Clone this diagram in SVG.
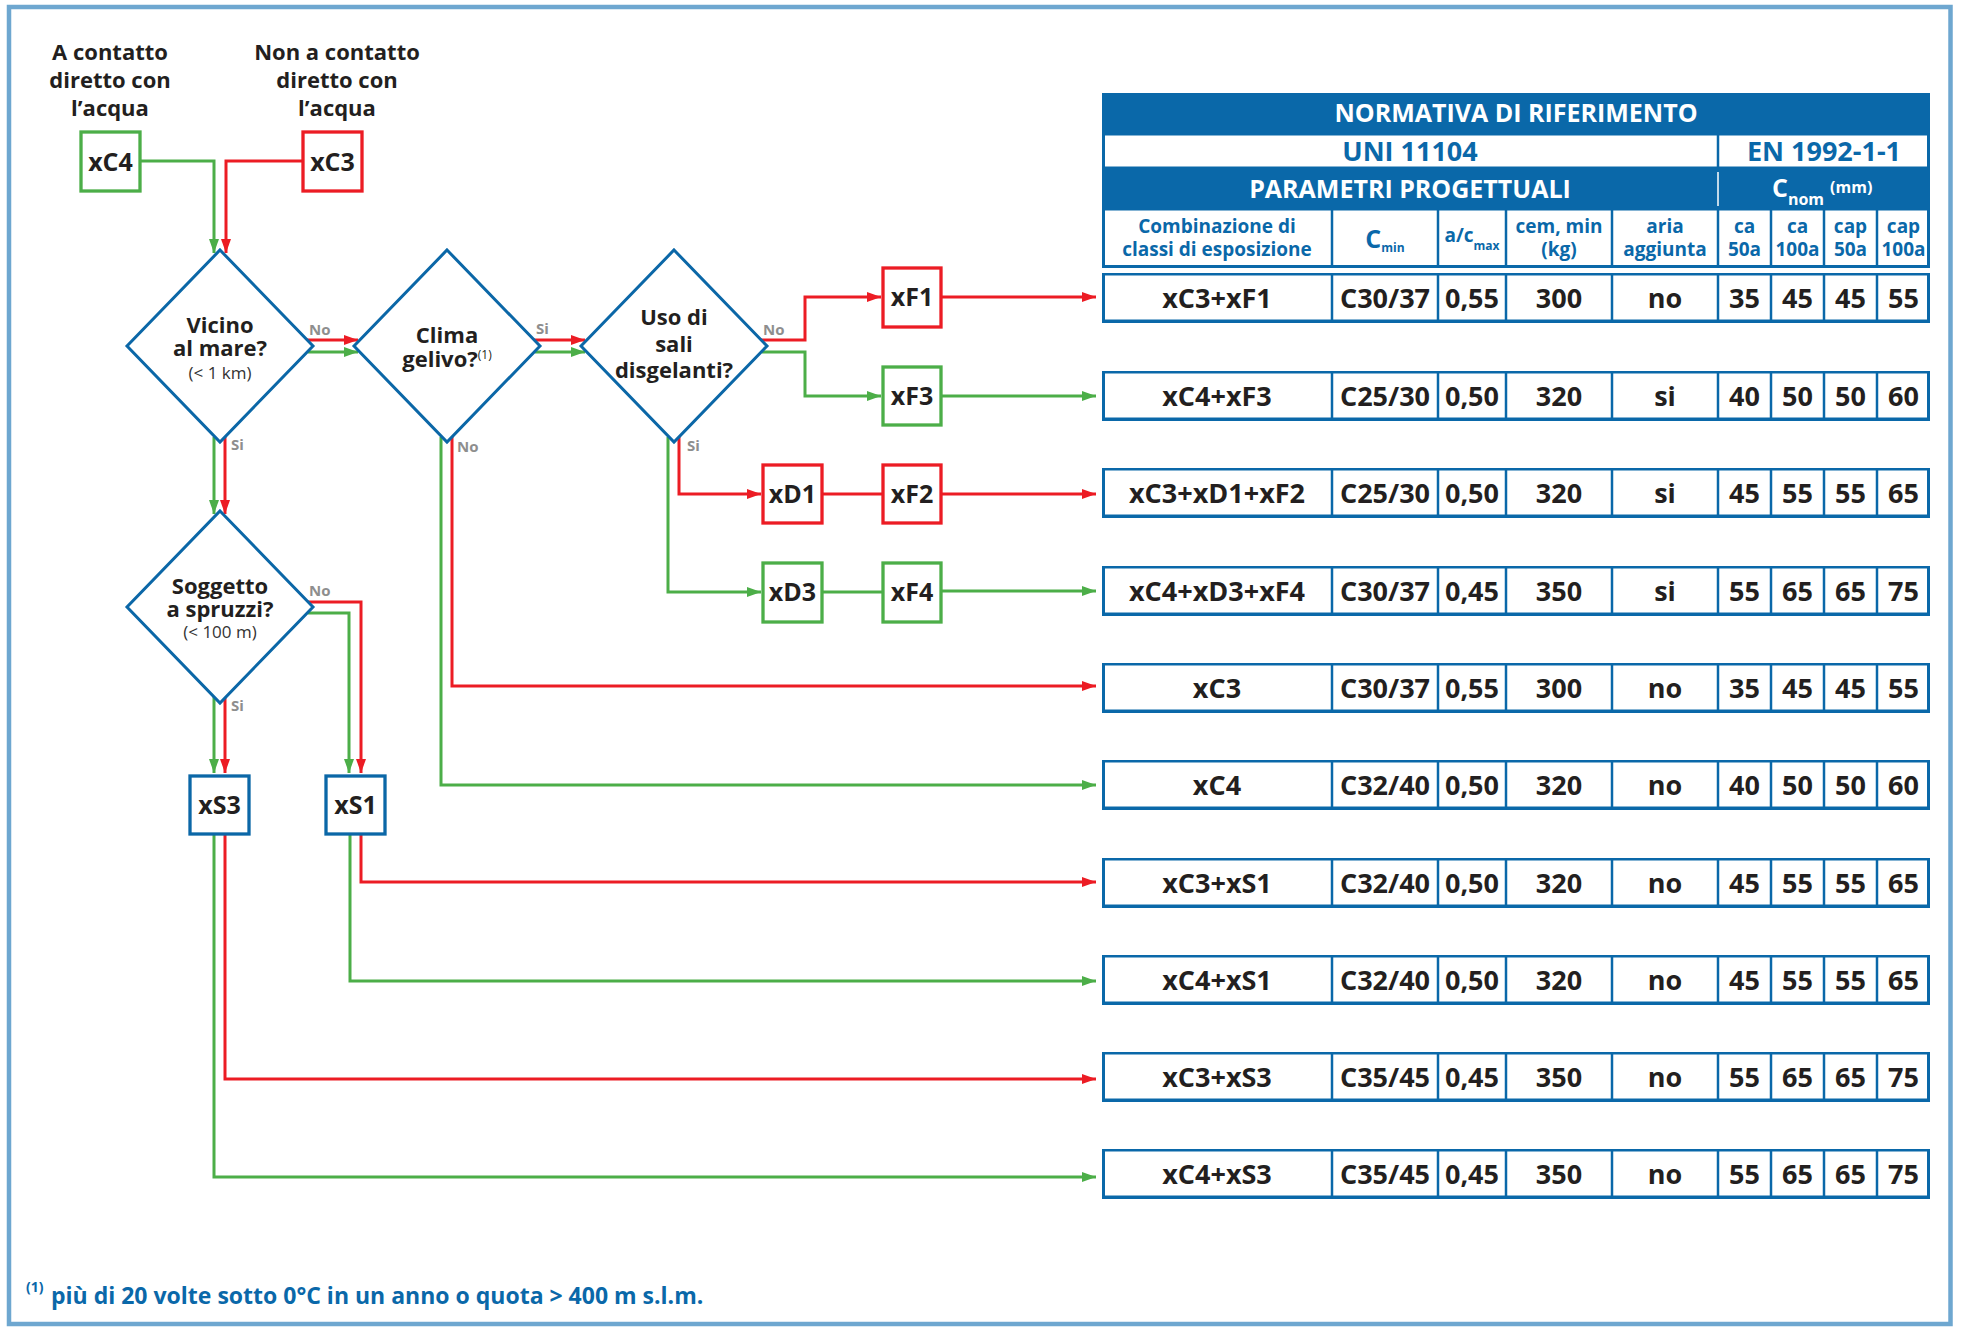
<svg xmlns="http://www.w3.org/2000/svg" xmlns:xlink="http://www.w3.org/1999/xlink" width="1961" height="1327" viewBox="0 0 1961 1327">
<style>
text{font-family:"Open Sans","Liberation Sans",sans-serif;font-weight:700}
.lab{font-size:22px;fill:#231f20;text-anchor:middle}
.sm{font-size:17px;font-weight:400;fill:#333;text-anchor:middle}
.box{font-size:25px;fill:#231f20;text-anchor:middle}
.yn{font-size:15px;fill:#8e8e8e}
.dia{fill:#fff;stroke:#0b67a7;stroke-width:3}
.bg{fill:#fff;stroke-width:3.3}
.g{stroke:#4cae48}
.r{stroke:#ec1c24}
.b{stroke:#0b67a7}
.lr{fill:none;stroke:#ec1c24;stroke-width:3}
.lg{fill:none;stroke:#4cae48;stroke-width:3}
.ar{marker-end:url(#mr)}
.ag{marker-end:url(#mg)}
.hw{fill:#fff;text-anchor:middle}
.hb{fill:#0a68a9;text-anchor:middle}
.hc{font-size:19px;fill:#0a68a9;text-anchor:middle}
.td{font-size:27px;fill:#231f20;text-anchor:middle}
.fn{fill:#0a68a9}
</style>
<defs>
<marker id="mr" markerUnits="userSpaceOnUse" viewBox="0 0 15 11" markerWidth="15" markerHeight="11" refX="14" refY="5.5" orient="auto"><path d="M0,0.5 L14,5.5 L0,10.5 z" fill="#ec1c24"/></marker>
<marker id="mg" markerUnits="userSpaceOnUse" viewBox="0 0 15 11" markerWidth="15" markerHeight="11" refX="14" refY="5.5" orient="auto"><path d="M0,0.5 L14,5.5 L0,10.5 z" fill="#4cae48"/></marker>
<g id="rowbg">
<rect x="1102" y="0" width="828" height="50" fill="#0a68a9"/>
<g fill="#fff">
<rect x="1105" y="2.5" width="225.75" height="44"/>
<rect x="1333.25" y="2.5" width="103.5" height="44"/>
<rect x="1439.25" y="2.5" width="65.5" height="44"/>
<rect x="1507.25" y="2.5" width="103.5" height="44"/>
<rect x="1613.25" y="2.5" width="103.5" height="44"/>
<rect x="1719.25" y="2.5" width="50.5" height="44"/>
<rect x="1772.25" y="2.5" width="50.5" height="44"/>
<rect x="1825.25" y="2.5" width="50.5" height="44"/>
<rect x="1878.25" y="2.5" width="48.75" height="44"/>
</g>
</g>
</defs>
<rect x="0" y="0" width="1961" height="1327" fill="#fff"/>
<rect x="9" y="7" width="1941.5" height="1317" fill="none" stroke="#6ea7d0" stroke-width="4.5"/>

<g id="connectors">
<polyline class="lg ag" points="140,161 214,161 214,253"/>
<polyline class="lr ar" points="303,161 226,161 226,253"/>
<polyline class="lr ar" points="306,340 358,340"/>
<polyline class="lg ag" points="308,352 358,352"/>
<polyline class="lr ar" points="533,340 585,340"/>
<polyline class="lg ag" points="535,352 585,352"/>
<polyline class="lr ar" points="760,340 805,340 805,297 881,297"/>
<polyline class="lg ag" points="762,352 805,352 805,396 881,396"/>
<polyline class="lr ar" points="941,297 1096,297"/>
<polyline class="lg ag" points="941,396 1096,396"/>
<polyline class="lr ar" points="679,437 679,494 761,494"/>
<polyline class="lg ag" points="668,437 668,592 761,592"/>
<polyline class="lr" points="822,494 883,494"/>
<polyline class="lr ar" points="941,494 1096,494"/>
<polyline class="lg" points="822,592 883,592"/>
<polyline class="lg ag" points="941,591 1096,591"/>
<polyline class="lr ar" points="452,437 452,686 1096,686"/>
<polyline class="lg ag" points="441,437 441,785 1096,785"/>
<polyline class="lg ag" points="214,437 214,514"/>
<polyline class="lr ar" points="225,437 225,514"/>
<polyline class="lr ar" points="306,602 361,602 361,773"/>
<polyline class="lg ag" points="308,613 349,613 349,773"/>
<polyline class="lg ag" points="214,697 214,773"/>
<polyline class="lr ar" points="225,697 225,773"/>
<polyline class="lr ar" points="361,834 361,882 1096,882"/>
<polyline class="lg ag" points="350,834 350,981 1096,981"/>
<polyline class="lr ar" points="225,834 225,1079 1096,1079"/>
<polyline class="lg ag" points="214,834 214,1177 1096,1177"/>
</g>

<g id="labels-top">
<text class="lab"><tspan x="110" y="60">A contatto</tspan><tspan x="110" y="88">diretto con</tspan><tspan x="110" y="116">l’acqua</tspan></text>
<text class="lab"><tspan x="337" y="60">Non a contatto</tspan><tspan x="337" y="88">diretto con</tspan><tspan x="337" y="116">l’acqua</tspan></text>
</g>

<g id="xC4"><rect class="bg g" x="81" y="132" width="59" height="59"/><text class="box" x="110.5" y="171">xC4</text></g>
<g id="xC3"><rect class="bg r" x="303" y="132" width="59" height="59"/><text class="box" x="332.5" y="171">xC3</text></g>

<g id="d-vicino">
<polygon class="dia" points="220,250 313,346 220,442 127,346"/>
<text class="lab"><tspan x="220" y="333">Vicino</tspan><tspan x="220" y="356">al mare?</tspan></text>
<text class="sm" x="220" y="379">(&lt; 1 km)</text>
</g>
<g id="d-clima">
<polygon class="dia" points="447,250 540,346 447,442 354,346"/>
<text class="lab" x="447" y="343">Clima</text>
<text class="lab" x="447" y="367">gelivo?<tspan font-size="12" font-weight="400" dy="-8">(1)</tspan></text>
</g>
<g id="d-sali">
<polygon class="dia" points="674,250 767,346 674,442 581,346"/>
<text class="lab"><tspan x="674" y="325">Uso di</tspan><tspan x="674" y="352">sali</tspan><tspan x="674" y="378">disgelanti?</tspan></text>
</g>
<g id="d-spruzzi">
<polygon class="dia" points="220,511 313,607 220,703 127,607"/>
<text class="lab"><tspan x="220" y="594">Soggetto</tspan><tspan x="220" y="617">a spruzzi?</tspan></text>
<text class="sm" x="220" y="638">(&lt; 100 m)</text>
</g>

<g id="yn-labels">
<text class="yn" x="309" y="335">No</text>
<text class="yn" x="231" y="450">Si</text>
<text class="yn" x="536" y="334">Si</text>
<text class="yn" x="457" y="452">No</text>
<text class="yn" x="763" y="335">No</text>
<text class="yn" x="687" y="451">Si</text>
<text class="yn" x="309" y="596">No</text>
<text class="yn" x="231" y="711">Si</text>
</g>

<g id="xF1"><rect class="bg r" x="883" y="268" width="58" height="59"/><text class="box" x="912" y="306">xF1</text></g>
<g id="xF3"><rect class="bg g" x="883" y="367" width="58" height="58"/><text class="box" x="912" y="405">xF3</text></g>
<g id="xD1"><rect class="bg r" x="763" y="465" width="59" height="58"/><text class="box" x="792.5" y="503">xD1</text></g>
<g id="xF2"><rect class="bg r" x="883" y="465" width="58" height="58"/><text class="box" x="912" y="503">xF2</text></g>
<g id="xD3"><rect class="bg g" x="763" y="563" width="59" height="59"/><text class="box" x="792.5" y="601">xD3</text></g>
<g id="xF4"><rect class="bg g" x="883" y="563" width="58" height="59"/><text class="box" x="912" y="601">xF4</text></g>
<g id="xS3"><rect class="bg b" x="190" y="776" width="59" height="58"/><text class="box" x="219.5" y="814">xS3</text></g>
<g id="xS1"><rect class="bg b" x="326" y="776" width="59" height="58"/><text class="box" x="355.5" y="814">xS1</text></g>

<g id="table-header">
<rect x="1102" y="93" width="828" height="175" fill="#0a68a9"/>
<rect x="1105" y="135.5" width="611.75" height="31" fill="#fff"/>
<rect x="1719.25" y="135.5" width="207.75" height="31" fill="#fff"/>
<line x1="1718" y1="172" x2="1718" y2="206" stroke="#fff" stroke-width="1.5"/>
<g fill="#fff">
<rect x="1105" y="210.5" width="225.75" height="54.5"/>
<rect x="1333.25" y="210.5" width="103.5" height="54.5"/>
<rect x="1439.25" y="210.5" width="65.5" height="54.5"/>
<rect x="1507.25" y="210.5" width="103.5" height="54.5"/>
<rect x="1613.25" y="210.5" width="103.5" height="54.5"/>
<rect x="1719.25" y="210.5" width="50.5" height="54.5"/>
<rect x="1772.25" y="210.5" width="50.5" height="54.5"/>
<rect x="1825.25" y="210.5" width="50.5" height="54.5"/>
<rect x="1878.25" y="210.5" width="48.75" height="54.5"/>
</g>
<text class="hw" x="1516" y="122" font-size="25">NORMATIVA DI RIFERIMENTO</text>
<text class="hb" x="1410" y="161" font-size="27">UNI 11104</text>
<text class="hb" x="1824" y="161" font-size="27">EN 1992-1-1</text>
<text class="hw" x="1410" y="198" font-size="25">PARAMETRI PROGETTUALI</text>
<text x="1772" y="197" fill="#fff"><tspan font-size="25">C</tspan><tspan font-size="16" dy="8">nom</tspan><tspan font-size="16" dx="6" dy="-12">(mm)</tspan></text>
<text class="hc"><tspan x="1217" y="233">Combinazione di</tspan><tspan x="1217" y="256">classi di esposizione</tspan></text>
<text class="hc" x="1385" y="248"><tspan font-size="25">C</tspan><tspan font-size="12" dy="4">min</tspan></text>
<text class="hc" x="1472" y="242">a/c<tspan font-size="12" dy="8">max</tspan></text>
<text class="hc"><tspan x="1559" y="233">cem, min</tspan><tspan x="1559" y="256">(kg)</tspan></text>
<text class="hc"><tspan x="1665" y="233">aria</tspan><tspan x="1665" y="256">aggiunta</tspan></text>
<text class="hc"><tspan x="1744.5" y="233">ca</tspan><tspan x="1744.5" y="256">50a</tspan></text>
<text class="hc"><tspan x="1797.5" y="233">ca</tspan><tspan x="1797.5" y="256">100a</tspan></text>
<text class="hc"><tspan x="1850.5" y="233">cap</tspan><tspan x="1850.5" y="256">50a</tspan></text>
<text class="hc"><tspan x="1903.5" y="233">cap</tspan><tspan x="1903.5" y="256">100a</tspan></text>
</g>

<g id="row1"><use xlink:href="#rowbg" y="273"/><text class="td" y="307.5"><tspan x="1217">xC3+xF1</tspan><tspan x="1385">C30/37</tspan><tspan x="1472">0,55</tspan><tspan x="1559">300</tspan><tspan x="1665">no</tspan><tspan x="1744.5">35</tspan><tspan x="1797.5">45</tspan><tspan x="1850.5">45</tspan><tspan x="1903.5">55</tspan></text></g>
<g id="row2"><use xlink:href="#rowbg" y="371"/><text class="td" y="405.5"><tspan x="1217">xC4+xF3</tspan><tspan x="1385">C25/30</tspan><tspan x="1472">0,50</tspan><tspan x="1559">320</tspan><tspan x="1665">si</tspan><tspan x="1744.5">40</tspan><tspan x="1797.5">50</tspan><tspan x="1850.5">50</tspan><tspan x="1903.5">60</tspan></text></g>
<g id="row3"><use xlink:href="#rowbg" y="468"/><text class="td" y="502.5"><tspan x="1217">xC3+xD1+xF2</tspan><tspan x="1385">C25/30</tspan><tspan x="1472">0,50</tspan><tspan x="1559">320</tspan><tspan x="1665">si</tspan><tspan x="1744.5">45</tspan><tspan x="1797.5">55</tspan><tspan x="1850.5">55</tspan><tspan x="1903.5">65</tspan></text></g>
<g id="row4"><use xlink:href="#rowbg" y="566"/><text class="td" y="600.5"><tspan x="1217">xC4+xD3+xF4</tspan><tspan x="1385">C30/37</tspan><tspan x="1472">0,45</tspan><tspan x="1559">350</tspan><tspan x="1665">si</tspan><tspan x="1744.5">55</tspan><tspan x="1797.5">65</tspan><tspan x="1850.5">65</tspan><tspan x="1903.5">75</tspan></text></g>
<g id="row5"><use xlink:href="#rowbg" y="663"/><text class="td" y="697.5"><tspan x="1217">xC3</tspan><tspan x="1385">C30/37</tspan><tspan x="1472">0,55</tspan><tspan x="1559">300</tspan><tspan x="1665">no</tspan><tspan x="1744.5">35</tspan><tspan x="1797.5">45</tspan><tspan x="1850.5">45</tspan><tspan x="1903.5">55</tspan></text></g>
<g id="row6"><use xlink:href="#rowbg" y="760"/><text class="td" y="794.5"><tspan x="1217">xC4</tspan><tspan x="1385">C32/40</tspan><tspan x="1472">0,50</tspan><tspan x="1559">320</tspan><tspan x="1665">no</tspan><tspan x="1744.5">40</tspan><tspan x="1797.5">50</tspan><tspan x="1850.5">50</tspan><tspan x="1903.5">60</tspan></text></g>
<g id="row7"><use xlink:href="#rowbg" y="858"/><text class="td" y="892.5"><tspan x="1217">xC3+xS1</tspan><tspan x="1385">C32/40</tspan><tspan x="1472">0,50</tspan><tspan x="1559">320</tspan><tspan x="1665">no</tspan><tspan x="1744.5">45</tspan><tspan x="1797.5">55</tspan><tspan x="1850.5">55</tspan><tspan x="1903.5">65</tspan></text></g>
<g id="row8"><use xlink:href="#rowbg" y="955"/><text class="td" y="989.5"><tspan x="1217">xC4+xS1</tspan><tspan x="1385">C32/40</tspan><tspan x="1472">0,50</tspan><tspan x="1559">320</tspan><tspan x="1665">no</tspan><tspan x="1744.5">45</tspan><tspan x="1797.5">55</tspan><tspan x="1850.5">55</tspan><tspan x="1903.5">65</tspan></text></g>
<g id="row9"><use xlink:href="#rowbg" y="1052"/><text class="td" y="1086.5"><tspan x="1217">xC3+xS3</tspan><tspan x="1385">C35/45</tspan><tspan x="1472">0,45</tspan><tspan x="1559">350</tspan><tspan x="1665">no</tspan><tspan x="1744.5">55</tspan><tspan x="1797.5">65</tspan><tspan x="1850.5">65</tspan><tspan x="1903.5">75</tspan></text></g>
<g id="row10"><use xlink:href="#rowbg" y="1149"/><text class="td" y="1183.5"><tspan x="1217">xC4+xS3</tspan><tspan x="1385">C35/45</tspan><tspan x="1472">0,45</tspan><tspan x="1559">350</tspan><tspan x="1665">no</tspan><tspan x="1744.5">55</tspan><tspan x="1797.5">65</tspan><tspan x="1850.5">65</tspan><tspan x="1903.5">75</tspan></text></g>

<g id="footnote">
<text class="fn" x="26" y="1292" font-size="14" font-weight="400">(1)</text>
<text class="fn" x="51" y="1304" font-size="23">più di 20 volte sotto 0°C in un anno o quota &gt; 400 m s.l.m.</text>
</g>
</svg>
